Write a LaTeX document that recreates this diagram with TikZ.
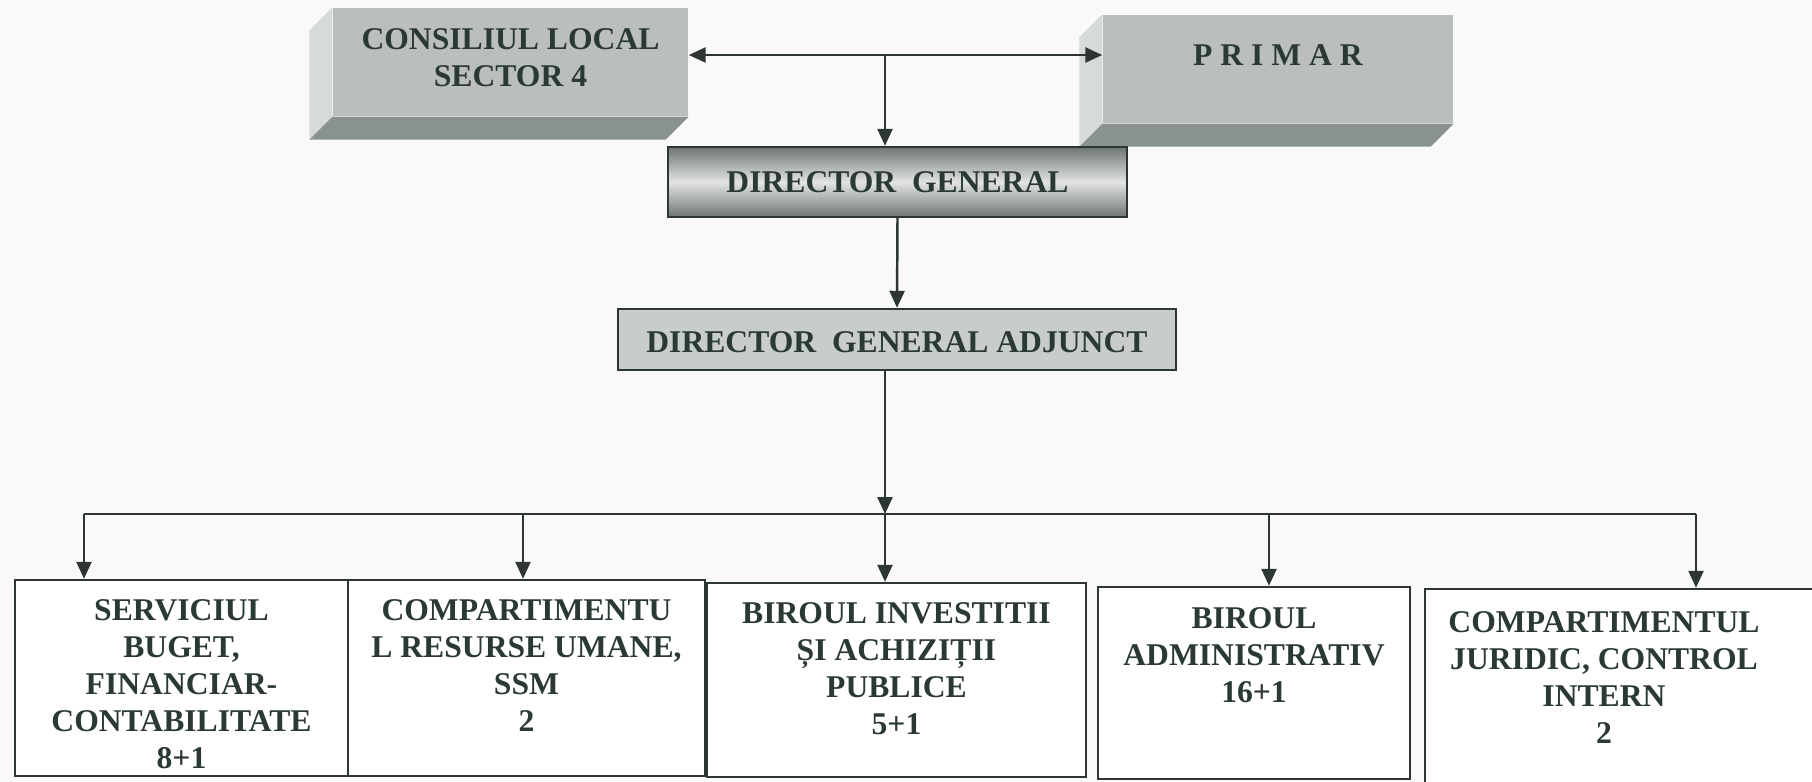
\documentclass[tikz,border=0pt]{standalone}
\usepackage{fontspec}
\setmainfont{Liberation Serif}
\usetikzlibrary{arrows.meta, positioning}
\definecolor{inkgreen}{RGB}{42,58,50}
\definecolor{linegray}{RGB}{46,54,50}
\definecolor{frontgray}{RGB}{186,191,188}
\definecolor{sidegray}{RGB}{214,218,216}
\definecolor{basegray}{RGB}{138,146,142}
\definecolor{bargray}{RGB}{110,118,114}
\definecolor{barlight}{RGB}{226,228,227}
\definecolor{adjgray}{RGB}{200,205,203}
\definecolor{paper}{RGB}{249,249,247}
\tikzset{
	>={Triangle[length=0.17cm,width=0.15cm]},
	block/.style={draw=linegray, line width=0.7pt},
	slab/.style={fill=frontgray},
	sideface/.style={fill=sidegray},
	baseface/.style={fill=basegray},
	flow/.style={draw=linegray, line width=0.7pt},
	boxtext/.style={font=\fontsize{9}{10.5}\selectfont\bfseries, text=inkgreen, align=center, inner sep=0pt}
}
\begin{document}
\begin{tikzpicture}
		\useasboundingbox (0,0) rectangle (18.12,-7.82);
		\fill[paper] (0,0) rectangle (18.12,-7.82);

		% consiliu si primar
		\node[slab, minimum width=3.55cm, minimum height=1.08cm] (council) at (5.105,-0.62) {};
		\node[slab, minimum width=3.5cm, minimum height=1.08cm] (primar) at (12.78,-0.69) {};
		\foreach \s in {council, primar} {
			\fill[sideface] (\s.north west) -- ++(-0.23,-0.23) -- ([shift={(-0.23,-0.23)}]\s.south west) -- (\s.south west) -- cycle;
			\fill[baseface] (\s.south west) -- ++(-0.23,-0.23) -- ([shift={(-0.23,-0.23)}]\s.south east) -- (\s.south east) -- cycle;
		}
		\node[boxtext] (council-txt) at (5.105,-0.575) {CONSILIUL LOCAL\\SECTOR 4};
		\node[boxtext] (primar-txt) at (12.78,-0.55) {P R I M A R};

		% directori
		\node[block, top color=bargray, bottom color=bargray, middle color=barlight, minimum width=4.59cm, minimum height=0.7cm] (dirgen) at (8.975,-1.82) {};
		\node[boxtext] (dirgen-txt) at (dirgen) {DIRECTOR\ \ GENERAL};

		\node[block, fill=adjgray, minimum width=5.58cm, minimum height=0.61cm] (dga) at (8.97,-3.395) {};
		\node[boxtext] (dga-txt) at (8.97,-3.42) {DIRECTOR\ \ GENERAL ADJUNCT};

		% compartimente
		\node[block, fill=white, minimum width=3.33cm, minimum height=1.96cm] (svc) at (1.815,-6.78) {};
		\node[block, fill=white, minimum width=3.57cm, minimum height=1.96cm] (hr) at (5.265,-6.78) {};
		\node[block, fill=white, minimum width=3.79cm, minimum height=1.94cm] (inv) at (8.965,-6.80) {};
		\node[block, fill=white, minimum width=3.12cm, minimum height=1.92cm] (adm) at (12.54,-6.83) {};
		\node[block, fill=white, minimum width=4.15cm, minimum height=2.11cm] (jur) at (16.325,-6.945) {};

		\node[boxtext, anchor=north] (svc-txt) at ([yshift=-0.2cm]svc.north) {SERVICIUL\\BUGET,\\FINANCIAR-\\CONTABILITATE\\8+1};
		\node[boxtext, anchor=north] (hr-txt) at ([yshift=-0.2cm]hr.north) {COMPARTIMENTU\\L RESURSE UMANE,\\SSM\\2};
		\node[boxtext, anchor=north] (inv-txt) at ([yshift=-0.2cm]inv.north) {BIROUL INVESTITII\\ȘI ACHIZIȚII\\PUBLICE\\5+1};
		\node[boxtext, anchor=north] (adm-txt) at ([yshift=-0.21cm]adm.north) {BIROUL\\ADMINISTRATIV\\16+1};
		\node[boxtext, anchor=north] (jur-txt) at (16.04,-6.11) {COMPARTIMENTUL\\JURIDIC, CONTROL\\INTERN\\2};

		% legaturi
		\coordinate (link) at (8.85,-0.55);
		\draw[flow, <->] (council.east |- link) -- (link -| primar.west);
		\draw[flow, ->] (link) -- (link |- dirgen.north);
		\draw[flow, ->] (dirgen.south) -- (dga.north);

		\coordinate (bus) at (8.85,-5.14);
		\draw[flow, ->] (bus |- dga.south) -- (bus);
		\foreach \x/\b in {0.84/svc, 5.23/hr, 8.85/inv, 12.69/adm, 16.96/jur}
			\coordinate (drop-\b) at (\x,-5.14);
		\draw[flow] (drop-svc) -- (drop-jur);
		\foreach \b in {svc, hr, inv, adm, jur}
			\draw[flow, ->] (drop-\b) -- (drop-\b |- \b.north);
	\end{tikzpicture}
\end{document}
